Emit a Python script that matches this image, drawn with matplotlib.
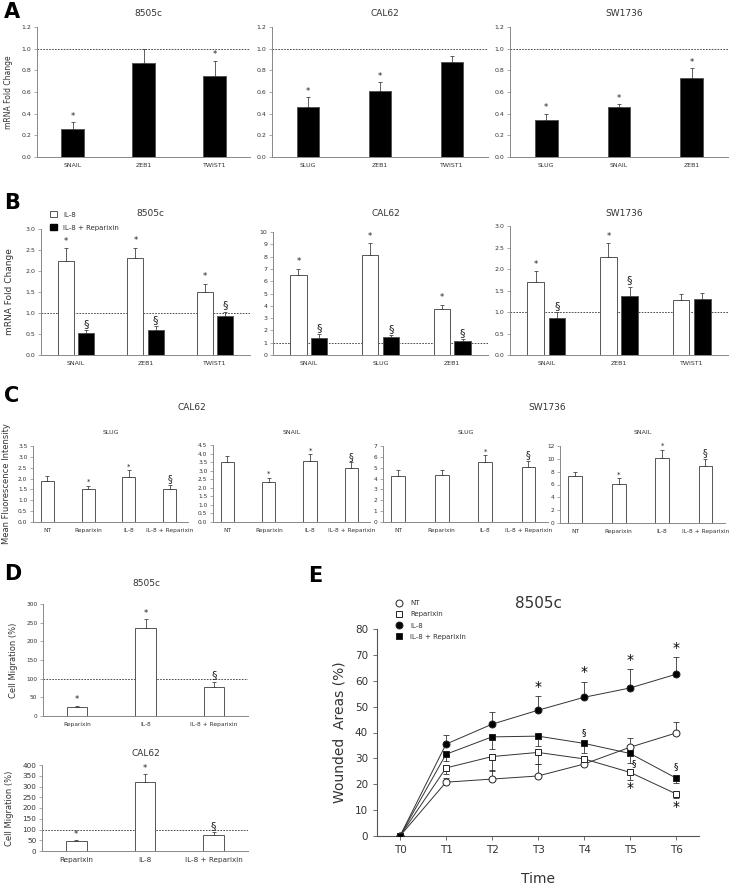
import matplotlib
matplotlib.use("Agg")
import matplotlib.pyplot as plt
import numpy as np
from matplotlib.patches import Patch
from matplotlib.lines import Line2D

W, H = 730, 891
TXT = "#333333"
SPINE = "#888888"

# ---------------- data ----------------
# Panel A
a_8505c_genes = ["SNAIL", "ZEB1", "TWIST1"]
a_8505c_vals = [0.26, 0.87, 0.75]
a_8505c_err = [0.06, 0.13, 0.14]
a_8505c_sig = ["*", "", "*"]

a_cal62_genes = ["SLUG", "ZEB1", "TWIST1"]
a_cal62_vals = [0.46, 0.61, 0.88]
a_cal62_err = [0.09, 0.08, 0.05]
a_cal62_sig = ["*", "*", ""]

a_sw1736_genes = ["SLUG", "SNAIL", "ZEB1"]
a_sw1736_vals = [0.34, 0.46, 0.73]
a_sw1736_err = [0.06, 0.03, 0.09]
a_sw1736_sig = ["*", "*", "*"]

# Panel B
b_8505c_genes = ["SNAIL", "ZEB1", "TWIST1"]
b_8505c_il8 = [2.23, 2.30, 1.50]
b_8505c_il8_err = [0.31, 0.25, 0.20]
b_8505c_rep = [0.52, 0.60, 0.93]
b_8505c_rep_err = [0.07, 0.08, 0.10]

b_cal62_genes = ["SNAIL", "SLUG", "ZEB1"]
b_cal62_il8 = [6.5, 8.15, 3.7]
b_cal62_il8_err = [0.5, 0.95, 0.4]
b_cal62_rep = [1.35, 1.5, 1.1]
b_cal62_rep_err = [0.35, 0.1, 0.2]

b_sw1736_genes = ["SNAIL", "ZEB1", "TWIST1"]
b_sw1736_il8 = [1.70, 2.28, 1.28]
b_sw1736_il8_err = [0.25, 0.32, 0.13]
b_sw1736_rep = [0.87, 1.37, 1.31]
b_sw1736_rep_err = [0.13, 0.22, 0.13]
b_sw1736_il8_sig = ["*", "*", ""]
b_sw1736_rep_sig = ["§", "§", ""]

# Panel C
treatments = ["NT", "Reparixin", "IL-8", "IL-8 + Reparixin"]
c_cal62_slug = [1.90, 1.50, 2.08, 1.54]
c_cal62_slug_err = [0.22, 0.18, 0.30, 0.16]
c_cal62_snail = [3.50, 2.33, 3.55, 3.13]
c_cal62_snail_err = [0.38, 0.27, 0.40, 0.35]
c_sw_slug = [4.28, 4.32, 5.55, 5.08]
c_sw_slug_err = [0.50, 0.50, 0.60, 0.57]
c_sw_snail = [7.3, 6.15, 10.2, 8.95]
c_sw_snail_err = [0.6, 0.8, 1.2, 1.0]
c_sig_a = ["", "*", "*", "§"]
c_sig_b = ["", "", "*", "§"]

# Panel D
d_treat = ["Reparixin", "IL-8", "IL-8 + Reparixin"]
d_8505c = [23, 237, 78]
d_8505c_err = [5, 22, 14]
d_cal62 = [45, 320, 75]
d_cal62_err = [8, 40, 15]
d_sig = ["*", "*", "§"]

# Panel E
times = ["T0", "T1", "T2", "T3", "T4", "T5", "T6"]
e_nt = [0, 20.8, 22.0, 23.2, 27.8, 34.3, 39.8]
e_nt_up = [0, 1.5, 3.5, 4.5, 1.5, 3.5, 4.2]
e_rep = [0, 26.3, 30.7, 32.3, 29.8, 24.6, 16.3]
e_rep_dn = [0, 2.5, 5.5, 4.5, 2.0, 3.0, 1.8]
e_il8 = [0, 35.5, 43.2, 48.6, 53.6, 57.2, 62.5]
e_il8_up = [0, 3.7, 4.8, 5.4, 6.1, 7.5, 6.5]
e_ilrep = [0, 31.6, 38.3, 38.6, 35.8, 31.9, 22.4]
e_ilrep_dn = [0, 2.5, 4.5, 4.0, 3.8, 3.5, 1.8]


def add_ax(fig, x1, y1, x2, y2):
    return fig.add_axes([x1 / W, 1 - y2 / H, (x2 - x1) / W, (y2 - y1) / H])


def style(ax, fs=4.5):
    for s in ["top", "right"]:
        ax.spines[s].set_visible(False)
    for s in ["left", "bottom"]:
        ax.spines[s].set_color(SPINE)
        ax.spines[s].set_linewidth(0.7)
    ax.tick_params(axis="y", labelsize=fs, colors=SPINE, labelcolor=TXT,
                   length=2, width=0.5, pad=2)
    ax.tick_params(axis="x", labelsize=fs, length=0, labelcolor=TXT, pad=4)


def bars(ax, x, vals, err, color, width, sig=None, sig_fs=6, sig_pad=0.0):
    ax.bar(x, vals, width, color=color, edgecolor="#555555", linewidth=0.7, zorder=2)
    ax.errorbar(x, vals, yerr=[np.zeros(len(vals)), err], fmt="none",
                ecolor="#444444", elinewidth=0.6, capsize=1.2, capthick=0.6, zorder=3)
    if sig:
        top = ax.get_ylim()[1]
        for xi, v, e, s in zip(x, vals, err, sig):
            if s:
                fs = sig_fs + 2 if s == "§" else sig_fs
                ax.text(xi, v + e + sig_pad * top, s, ha="center", va="bottom",
                        fontsize=fs, color="#222222")


fig = plt.figure(figsize=(W / 100, H / 100), dpi=100)


def letter(x, y, s):
    fig.text(x / W, 1 - y / H, s, fontsize=15, fontweight="bold", va="top", ha="left")


def ftitle(x, y, s, fs=6.5):
    fig.text(x / W, 1 - y / H, s, fontsize=fs, color=TXT, ha="center", va="center")


# ---------------- A ----------------
panels_a = [
    ((37, 27, 250, 157), "8505c", a_8505c_genes, a_8505c_vals, a_8505c_err, a_8505c_sig),
    ((272, 27, 488, 157), "CAL62", a_cal62_genes, a_cal62_vals, a_cal62_err, a_cal62_sig),
    ((510, 27, 728, 157), "SW1736", a_sw1736_genes, a_sw1736_vals, a_sw1736_err, a_sw1736_sig),
]
for i, (box, title, genes, vals, err, sig) in enumerate(panels_a):
    ax = add_ax(fig, *box)
    style(ax)
    ax.set_ylim(0, 1.2)
    ax.set_xlim(-0.5, 2.5)
    ax.set_yticks(np.arange(0, 1.21, 0.2))
    ax.yaxis.set_major_formatter(matplotlib.ticker.FormatStrFormatter("%.1f"))
    x = np.arange(len(genes))
    bars(ax, x, vals, err, "black", 0.31, sig, sig_fs=6, sig_pad=0.01)
    ax.axhline(1.0, color="#333333", linestyle=(0, (2, 1.5)), linewidth=0.6, zorder=1)
    ax.set_xticks(x)
    ax.set_xticklabels(genes)
    ftitle((box[0] + box[2]) / 2 + 5, 13, title)
    if i == 0:
        ax.set_ylabel("mRNA Fold Change", fontsize=5.5, color=TXT, labelpad=6)
letter(4, 2, "A")

# ---------------- B ----------------
panels_b = [
    ((41, 229, 250, 355), "8505c", b_8505c_genes, b_8505c_il8, b_8505c_il8_err,
     b_8505c_rep, b_8505c_rep_err, (0, 3.0), np.arange(0, 3.01, 0.5),
     ["*", "*", "*"], ["§", "§", "§"]),
    ((273, 232, 488, 355), "CAL62", b_cal62_genes, b_cal62_il8, b_cal62_il8_err,
     b_cal62_rep, b_cal62_rep_err, (0, 10), np.arange(0, 11, 1),
     ["*", "*", "*"], ["§", "§", "§"]),
    ((510, 226, 728, 355), "SW1736", b_sw1736_genes, b_sw1736_il8, b_sw1736_il8_err,
     b_sw1736_rep, b_sw1736_rep_err, (0, 3.0), np.arange(0, 3.01, 0.5),
     b_sw1736_il8_sig, b_sw1736_rep_sig),
]
for i, (box, title, genes, il8, il8e, rep, repe, ylim, yt, s1, s2) in enumerate(panels_b):
    ax = add_ax(fig, *box)
    style(ax)
    ax.set_ylim(*ylim)
    ax.set_xlim(-0.5, 2.5)
    ax.set_yticks(yt)
    if ylim[1] < 5:
        ax.yaxis.set_major_formatter(matplotlib.ticker.FormatStrFormatter("%.1f"))
    x = np.arange(len(genes))
    bars(ax, x - 0.145, il8, il8e, "white", 0.23, s1, sig_fs=6, sig_pad=0.02)
    bars(ax, x + 0.145, rep, repe, "black", 0.23, s2, sig_fs=6, sig_pad=0.01)
    ax.axhline(1.0, color="#333333", linestyle=(0, (2, 1.5)), linewidth=0.6, zorder=1)
    ax.set_xticks(x)
    ax.set_xticklabels(genes)
    ftitle((box[0] + box[2]) / 2 + 5, 213, title)
    if i == 0:
        ax.set_ylabel("mRNA Fold Change", fontsize=6.5, color=TXT, labelpad=8)
fig.legend(handles=[Patch(facecolor="white", edgecolor="#555555", linewidth=0.7, label="IL-8"),
                    Patch(facecolor="black", edgecolor="black", label="IL-8 + Reparixin")],
           loc="upper left", bbox_to_anchor=(44 / W, 1 - 205 / H), frameon=False,
           fontsize=5, handlelength=0.9, handleheight=0.9, labelspacing=1.0,
           handletextpad=1.0, labelcolor=TXT)
letter(4, 193, "B")

# ---------------- C ----------------
panels_c = [
    ((33, 446, 188, 522), "SLUG", c_cal62_slug, c_cal62_slug_err, 3.5, np.arange(0, 3.51, 0.5), c_sig_a),
    ((213, 445, 370, 522), "SNAIL", c_cal62_snail, c_cal62_snail_err, 4.5, np.arange(0, 4.51, 0.5), c_sig_a),
    ((383, 446, 548, 522), "SLUG", c_sw_slug, c_sw_slug_err, 7, np.arange(0, 7.1, 1), c_sig_b),
    ((560, 446, 725, 523), "SNAIL", c_sw_snail, c_sw_snail_err, 12, np.arange(0, 12.1, 2), c_sig_a),
]
for i, (box, title, vals, err, ymax, yt, sig) in enumerate(panels_c):
    ax = add_ax(fig, *box)
    style(ax, fs=4.2)
    ax.set_ylim(0, ymax)
    ax.set_xlim(-0.35, 3.45)
    ax.set_yticks(yt)
    if ymax < 5:
        ax.yaxis.set_major_formatter(matplotlib.ticker.FormatStrFormatter("%.1f"))
    x = np.arange(len(treatments))
    bars(ax, x, vals, err, "white", 0.32, sig, sig_fs=5, sig_pad=0.01)
    ax.set_xticks(x)
    ax.set_xticklabels(treatments)
    ftitle((box[0] + box[2]) / 2, 433, title, fs=4.5)
    if i == 0:
        ax.set_ylabel("Mean Fluorescence Intensity", fontsize=6, color=TXT, labelpad=5)
ftitle(192, 408, "CAL62")
ftitle(547, 408, "SW1736")
letter(4, 386, "C")

# ---------------- D ----------------
panels_d = [
    ((43, 604, 248, 716), "8505c", 583, d_8505c, d_8505c_err, 300, 4.2),
    ((42, 765, 248, 851), "CAL62", 754, d_cal62, d_cal62_err, 400, 5.2),
]
for box, title, ty, vals, err, ymax, fs in panels_d:
    ax = add_ax(fig, *box)
    style(ax, fs=fs)
    ax.set_ylim(0, ymax)
    ax.set_xlim(-0.5, 2.5)
    ax.set_yticks(np.arange(0, ymax + 1, 50))
    x = np.arange(len(d_treat))
    bars(ax, x, vals, err, "white", 0.3, d_sig, sig_fs=6, sig_pad=0.01)
    ax.axhline(100, color="#333333", linestyle=(0, (2, 1.5)), linewidth=0.6, zorder=1)
    ax.set_xticks(x)
    ax.set_xticklabels(d_treat)
    ftitle(146, ty, title)
    ax.set_ylabel("Cell Migration (%)", fontsize=6, color=TXT, labelpad=6)
letter(4, 564, "D")

# ---------------- E ----------------
ax = add_ax(fig, 377, 629, 699, 836)
for s in ["top", "right"]:
    ax.spines[s].set_visible(False)
for s in ["left", "bottom"]:
    ax.spines[s].set_color("#555555")
    ax.spines[s].set_linewidth(0.8)
xt = np.arange(len(times))
ax.set_xlim(-0.5, 6.5)
ax.set_ylim(0, 80)
ax.set_yticks(np.arange(0, 81, 10))
ax.set_xticks(xt)
ax.set_xticklabels(times)
ax.tick_params(labelsize=7.5, colors="#555555", labelcolor=TXT, length=3, width=0.6)
z0 = np.zeros(len(times))
ms = 5
series = [
    (e_nt, [z0, e_nt_up], "o", "white", "NT"),
    (e_rep, [e_rep_dn, z0], "s", "white", "Reparixin"),
    (e_il8, [z0, e_il8_up], "o", "black", "IL-8"),
    (e_ilrep, [e_ilrep_dn, z0], "s", "black", "IL-8 + Reparixin"),
]
handles = []
for vals, yerr, mk, fc, lab in series:
    ax.errorbar(xt, vals, yerr=yerr, fmt="none", ecolor="#333333",
                elinewidth=0.6, capsize=2, capthick=0.6, zorder=2)
    ax.plot(xt, vals, color="#333333", linewidth=0.7, marker=mk, markersize=ms,
            markerfacecolor=fc, markeredgecolor="#222222", markeredgewidth=0.7, zorder=3)
    handles.append(Line2D([], [], linestyle="none", marker=mk, markersize=ms,
                          markerfacecolor=fc, markeredgecolor="#222222",
                          markeredgewidth=0.7, label=lab))

# significance marks
for i in range(3, 7):
    ax.text(xt[i], e_il8[i] + e_il8_up[i] + 0.8, "*", ha="center", va="bottom", fontsize=10)
ax.text(xt[4], e_ilrep[4] + 2.5, "§", ha="center", va="bottom", fontsize=6.5)
ax.text(xt[6], e_ilrep[6] + 2.5, "§", ha="center", va="bottom", fontsize=6.5)
ax.text(xt[5] + 0.08, e_rep[5] + 1.8, "§", ha="center", va="bottom", fontsize=6.5)
for i in (5, 6):
    ax.text(xt[i], e_rep[i] - e_rep_dn[i] - 0.5, "*", ha="center", va="top", fontsize=10)

ax.set_ylabel("Wounded  Areas (%)", fontsize=10, color=TXT, labelpad=6)
ax.set_xlabel("Time", fontsize=10, color=TXT, labelpad=12)
ftitle(539, 603, "8505c", fs=11)
fig.legend(handles=handles, loc="upper left", bbox_to_anchor=(390 / W, 1 - 594 / H),
           frameon=False, fontsize=5, handlelength=0.8, labelspacing=0.75,
           handletextpad=1.2, labelcolor=TXT)
letter(308, 566, "E")

fig.savefig("out.png", dpi=100, facecolor="white")
